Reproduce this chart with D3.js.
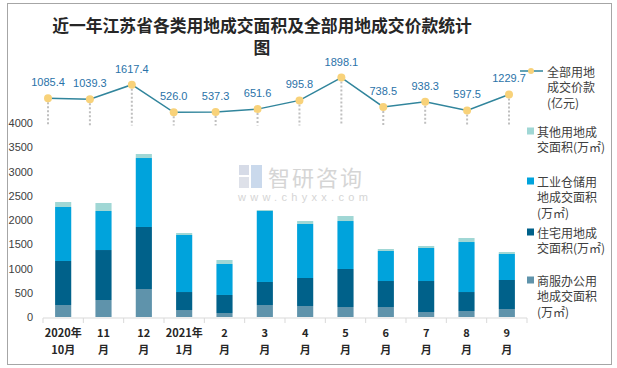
<!DOCTYPE html>
<html><head><meta charset="utf-8">
<script src="https://cdn.jsdelivr.net/npm/d3@7"></script>
<style>body{margin:0;background:#fff}svg{display:block}</style>
</head><body>
<svg id="c" width="617" height="368"></svg>
<script>
const categories = ["2020-10","2020-11","2020-12","2021-01","2021-02","2021-03","2021-04","2021-05","2021-06","2021-07","2021-08","2021-09"];
const tickLine1 = ["2020年","11","12","2021年","2","3","4","5","6","7","8","9"];
const tickLine2 = ["10月","月","月","1月","月","月","月","月","月","月","月","月"];
const commercial = [247,350,577,144,82,247,227,206,206,103,124,165];
const residential = [908,1031,1279,371,372,475,577,784,536,639,391,598];
const industrial = [1113,805,1422,1176,639,1464,1114,989,619,681,1031,536];
const other = [103,164,83,41,82,20,61,103,41,41,83,41];
const price = [1085.4,1039.3,1617.4,526.0,537.3,651.6,995.8,1898.1,738.5,938.3,597.5,1229.7];
const yTicks = [0,500,1000,1500,2000,2500,3000,3500,4000];
const seriesKeys = ["commercial","residential","industrial","other"];
const seriesColors = ["#5f93ab","#00618a","#00a3dc","#a0d7d5"];
const legendTitles = [
  ["全部用地","成交价款","(亿元)"],
  ["其他用地成","交面积(万㎡)"],
  ["工业仓储用","地成交面积","(万㎡)"],
  ["住宅用地成","交面积(万㎡)"],
  ["商服办公用","地成交面积","(万㎡)"]
];
const titleLines = ["近一年江苏省各类用地成交面积及全部用地成交价款统计","图"];

const svg = d3.select("#c");
const cjk = "'Noto Sans CJK SC','Noto Sans',sans-serif";
const num = "'Liberation Sans',Arial,sans-serif";

svg.append("rect").attr("x",7.5).attr("y",3.5).attr("width",604).attr("height",361)
  .attr("fill","#fff").attr("stroke","#a6a6a6").attr("stroke-width",1);

// watermark
const wm = svg.append("g").attr("opacity",0.75);
wm.append("rect").attr("x",239).attr("y",165).attr("width",10).attr("height",10).attr("fill","#c9d0e0");
wm.append("rect").attr("x",251).attr("y",165).attr("width",11).attr("height",23).attr("fill","#b9cde6");
wm.append("rect").attr("x",239).attr("y",177).attr("width",10).attr("height",11).attr("fill","#d3d7e2");
wm.append("text").attr("x",268).attr("y",186).attr("font-family",cjk).attr("font-size",22)
  .attr("fill","#c8c8c8").attr("letter-spacing",2).text("智研咨询");
wm.append("text").attr("x",238).attr("y",201).attr("font-family",num).attr("font-size",11)
  .attr("fill","#c8c8c8").attr("letter-spacing",4.3).text("www.chyxx.com");

// title
svg.append("g").selectAll("text").data(titleLines).join("text")
  .attr("x",262).attr("y",(d,i)=>32+i*22).attr("text-anchor","middle")
  .attr("font-family",cjk).attr("font-weight","bold").attr("font-size",16.8)
  .attr("fill","#262626").text(d=>d);

// bar scales
const x = d3.scaleBand().domain(categories).range([43,527]).paddingInner(0.6).paddingOuter(0.3);
const y = d3.scaleLinear().domain([0,4000]).range([317,123]);

const rows = categories.map((c,i)=>({cat:c,commercial:commercial[i],residential:residential[i],industrial:industrial[i],other:other[i]}));
const stacked = d3.stack().keys(seriesKeys)(rows);

svg.append("g").selectAll("g").data(stacked).join("g")
  .attr("fill",(d,i)=>seriesColors[i])
  .selectAll("rect").data(d=>d).join("rect")
  .attr("x",d=>x(d.data.cat)).attr("width",x.bandwidth())
  .attr("y",d=>y(d[1])).attr("height",d=>y(d[0])-y(d[1]));

// y axis
const ya = svg.append("g").attr("transform","translate(33,0)")
  .call(d3.axisLeft(y).tickValues(yTicks).tickSize(0).tickPadding(0).tickFormat(d3.format("d")));
ya.select(".domain").remove();
ya.selectAll("text").attr("font-family",num).attr("font-size",11).attr("fill","#404040");

// x axis
const xa = svg.append("g").attr("transform","translate(0,318)");
xa.append("line").attr("x1",43).attr("x2",527).attr("stroke","#d9d9d9");
const bounds = d3.range(categories.length+1).map(i=>43+i*x.step());
xa.selectAll("line.t").data(bounds).join("line").attr("class","t")
  .attr("x1",d=>d).attr("x2",d=>d).attr("y1",0).attr("y2",5).attr("stroke","#d9d9d9");
const xl = xa.selectAll("g.l").data(categories).join("g").attr("class","l")
  .attr("transform",d=>`translate(${x(d)+x.bandwidth()/2},0)`);
xl.append("text").attr("y",19).attr("text-anchor","middle").attr("font-family",cjk)
  .attr("font-weight","bold").attr("font-size",11).attr("fill","#262626").text((d,i)=>tickLine1[i]);
xl.append("text").attr("y",36).attr("text-anchor","middle").attr("font-family",cjk)
  .attr("font-weight","bold").attr("font-size",11).attr("fill","#262626").text((d,i)=>tickLine2[i]);

// line chart
const xp = d3.scalePoint().domain(categories).range([48,509]);
const yl = d3.scaleLinear().domain([0,2000]).range([125.6,75]);

svg.append("g").selectAll("line").data(categories).join("line")
  .attr("x1",d=>xp(d)).attr("x2",d=>xp(d))
  .attr("y1",(d,i)=>yl(price[i])).attr("y2",yl(0))
  .attr("stroke","#bfbfbf").attr("stroke-width",2).attr("stroke-dasharray","2,2");

svg.append("path").datum(price)
  .attr("d",d3.line().x((d,i)=>xp(categories[i])).y(d=>yl(d)))
  .attr("fill","none").attr("stroke","#31859c").attr("stroke-width",1.5);

svg.append("g").selectAll("circle").data(price).join("circle")
  .attr("cx",(d,i)=>xp(categories[i])).attr("cy",d=>yl(d)).attr("r",4)
  .attr("fill","#f8d27a");

svg.append("g").selectAll("text").data(price).join("text")
  .attr("x",(d,i)=>xp(categories[i])).attr("y",d=>yl(d)-12)
  .attr("text-anchor","middle").attr("font-family",num).attr("font-size",11)
  .attr("fill","#2a72a8").text(d=>d.toFixed(1));

// legend
const lg = svg.append("g");
lg.append("line").attr("x1",520).attr("x2",543).attr("y1",71).attr("y2",71).attr("stroke","#31859c").attr("stroke-width",1.5);
lg.append("circle").attr("cx",531).attr("cy",71).attr("r",3).attr("fill","#f8d27a");
const legendY = [71,131,181,232,280];
const legendX = [547,537,537,537,537];
legendTitles.forEach((lines,k)=>{
  if(k>0){
    lg.append("rect").attr("x",527).attr("y",legendY[k]-3.5).attr("width",7).attr("height",7)
      .attr("fill",seriesColors[4-k]);
  }
  lg.append("g").selectAll("text").data(lines).join("text")
    .attr("x",legendX[k]).attr("y",(d,i)=>legendY[k]+i*15.5)
    .attr("dominant-baseline","central").attr("font-family",cjk).attr("font-size",12)
    .attr("fill","#404040").text(d=>d);
});
</script>
</body></html>
